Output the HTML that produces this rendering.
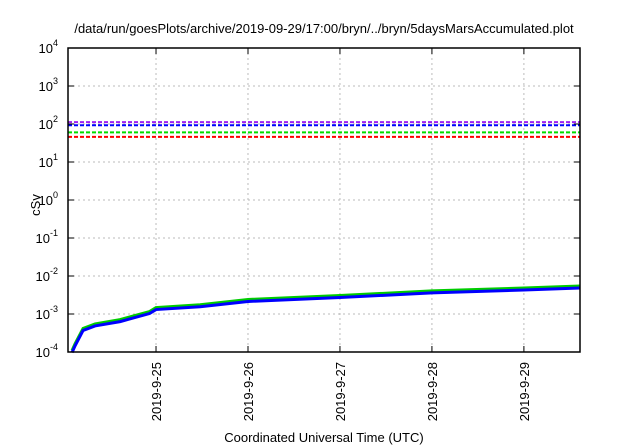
<!DOCTYPE html>
<html><head><meta charset="utf-8"><style>
body{margin:0;background:#fff}
svg{display:block;font-family:"Liberation Sans",sans-serif}
</style></head><body>
<svg id="chart" width="640" height="448">
<text x="324" y="33" font-size="13" text-anchor="middle">/data/run/goesPlots/archive/2019-09-29/17:00/bryn/../bryn/5daysMarsAccumulated.plot</text>
<text x="40" y="205" font-size="13" text-anchor="middle" transform="rotate(-90 40 205)">cSv</text>
<text x="324" y="442" font-size="13" text-anchor="middle">Coordinated Universal Time (UTC)</text>
<g id="grid"></g><g id="marks"></g><g id="axes"></g>
</svg>
<script>
const yExps=[-4,-3,-2,-1,0,1,2,3,4];
const xTickLabels=["2019-9-25","2019-9-26","2019-9-27","2019-9-28","2019-9-29"];
const xTickDays=[1,2,3,4,5];
const thresholds=[112,93,60,46];
const thresholdColors=["#a020f0","#0000ff","#00dd00","#ff0000"];
const curveDays=[0.087,0.12,0.207,0.337,0.61,0.93,1,1.48,2,3,4,5,5.61];
const curveValues=[1e-4,1.5e-4,3.8e-4,5e-4,6.5e-4,1.06e-3,1.35e-3,1.6e-3,2.2e-3,2.8e-3,3.7e-3,4.4e-3,5e-3];
const L=68,R=580,T=48,B=352,X0=0.043,X1=5.61;
const NS="http://www.w3.org/2000/svg";
function xs(d){return L+(d-X0)/(X1-X0)*(R-L);}
function ys(v){return B-(Math.log10(v)+4)/8*(B-T);}
function mk(tag,at,parent){const e=document.createElementNS(NS,tag);for(const k in at)e.setAttribute(k,at[k]);document.getElementById(parent).appendChild(e);return e;}
yExps.forEach(e=>{const y=ys(Math.pow(10,e));
 if(e>-4&&e<4){const g=mk('line',{x1:L,x2:R,y1:y,y2:y,stroke:'#bbb','stroke-dasharray':'2,3'},'grid');
 
 }
 const t=mk('text',{x:L-10,y:y+5,'font-size':13,'text-anchor':'end'},'axes');
 
 
 t.innerHTML='10<tspan dy="-7" font-size="9">'+e+'</tspan>';
 const tk=mk('line',{x1:L,x2:L+6,y1:y,y2:y,stroke:'#000'},'axes');
 
 
 const tk2=mk('line',{x1:R-6,x2:R,y1:y,y2:y,stroke:'#000'},'axes');
 
 
});
xTickDays.forEach((d,i)=>{const x=xs(d);
 const g=mk('line',{x1:x,x2:x,y1:T,y2:B,stroke:'#bbb','stroke-dasharray':'2,3'},'grid');
 
 
 const tk=mk('line',{x1:x,x2:x,y1:B-6,y2:B,stroke:'#000'},'axes');
 
 
 const tk2=mk('line',{x1:x,x2:x,y1:T,y2:T+6,stroke:'#000'},'axes');
 
 
 const t=mk('text',{x:x+5,y:B+10,'font-size':13,'text-anchor':'end',transform:'rotate(-90 '+(x+5)+' '+(B+10)+')'},'axes');
 
 
 t.textContent=xTickLabels[i];
});
thresholds.forEach((v,i)=>{const y=ys(v);
 const l=mk('line',{x1:L,x2:R,y1:y,y2:y,stroke:thresholdColors[i],'stroke-width':2,'stroke-dasharray':'4,2'},'marks');
 
 
});
const pts=curveDays.map((d,i)=>[xs(d),ys(curveValues[i])]);
const g=mk('polyline',{points:pts.map(p=>p[0]+','+(p[1]-1.5)).join(' '),fill:'none',stroke:'#00cc00','stroke-width':3},'marks');


const b=mk('polyline',{points:pts.map(p=>p[0]+','+(p[1]+0.5)).join(' '),fill:'none',stroke:'#0000ff','stroke-width':3},'marks');


const f=mk('rect',{x:L,y:T,width:R-L,height:B-T,fill:'none',stroke:'#000','stroke-width':1.5},'axes');


</script>
</body></html>
